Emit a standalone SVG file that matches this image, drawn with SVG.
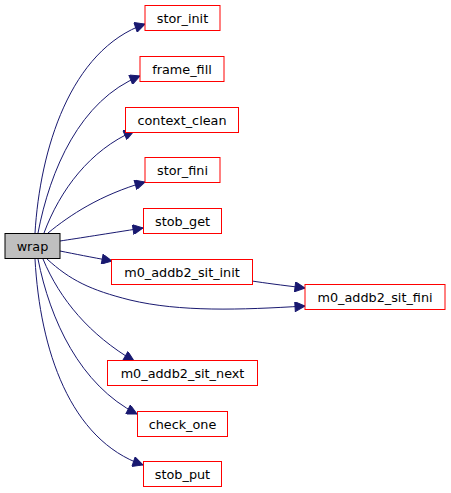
<svg xmlns="http://www.w3.org/2000/svg" width="451" height="493" viewBox="0 0 451 493">
<style>
.n rect{fill:#fff;stroke:#ff0000;stroke-width:1}
.root rect{fill:#bfbfbf;stroke:#000;stroke-width:1}
text{font-family:"DejaVu Sans",sans-serif;font-size:12.8px;fill:#000;text-anchor:middle}
.e path{fill:none;stroke:#191970;stroke-width:1}
</style>
<defs>
<marker id="ah" viewBox="0 0 10 10" refX="10" refY="5" markerWidth="14" markerHeight="10" markerUnits="userSpaceOnUse" orient="auto">
<path d="M0,0 L10,5 L0,10 Z" fill="#191970" stroke="#191970"/>
</marker>
</defs>
<rect width="451" height="493" fill="#fff"/>
<g id="edges" class="e">
<path d="M35,233 C40,150 70,50 145,24" marker-end="url(#ah)"/>
<path d="M38,233 C50,170 80,100 140,76" marker-end="url(#ah)"/>
<path d="M44,233 C60,190 90,150 134,131" marker-end="url(#ah)"/>
<path d="M48,233 C70,215 100,195 145,182" marker-end="url(#ah)"/>
<path d="M60,241 C80,238 105,234 143,228" marker-end="url(#ah)"/>
<path d="M60,251 C75,254 90,257 112,261" marker-end="url(#ah)"/>
<path d="M47,259 C70,280 90,290 130,300 C180,312 240,310 305,306" marker-end="url(#ah)"/>
<path d="M252,281 C265,283 280,285 305,288" marker-end="url(#ah)"/>
<path d="M43,259 C60,300 90,335 134,361" marker-end="url(#ah)"/>
<path d="M38,259 C50,320 80,385 137,414" marker-end="url(#ah)"/>
<path d="M35,259 C40,350 70,440 143,465" marker-end="url(#ah)"/>
</g>
<g id="wrap" class="root"><rect x="5" y="233.5" width="55" height="25"/><text x="32.5" y="250.5">wrap</text></g>
<g id="stor_init" class="n"><rect x="145" y="5.5" width="75" height="25"/><text x="182.5" y="22.5">stor_init</text></g>
<g id="frame_fill" class="n"><rect x="140" y="56.5" width="84" height="25"/><text x="182" y="73.5">frame_fill</text></g>
<g id="context_clean" class="n"><rect x="125.5" y="107.5" width="113" height="25"/><text x="182" y="124.5">context_clean</text></g>
<g id="stor_fini" class="n"><rect x="145" y="157.5" width="75" height="25"/><text x="182.5" y="174.5">stor_fini</text></g>
<g id="stob_get" class="n"><rect x="143.5" y="208.5" width="78" height="25"/><text x="182.5" y="225.5">stob_get</text></g>
<g id="m0_addb2_sit_init" class="n"><rect x="111.5" y="259.5" width="141" height="25"/><text x="182" y="276.5">m0_addb2_sit_init</text></g>
<g id="m0_addb2_sit_fini" class="n"><rect x="305" y="284.5" width="140" height="25"/><text x="375" y="301.5">m0_addb2_sit_fini</text></g>
<g id="m0_addb2_sit_next" class="n"><rect x="107.5" y="360.5" width="150" height="25"/><text x="182.5" y="377.5">m0_addb2_sit_next</text></g>
<g id="check_one" class="n"><rect x="137.5" y="411.5" width="90" height="25"/><text x="182.5" y="428.5">check_one</text></g>
<g id="stob_put" class="n"><rect x="143.5" y="461.5" width="78" height="25"/><text x="182.5" y="478.5">stob_put</text></g>
</svg>
